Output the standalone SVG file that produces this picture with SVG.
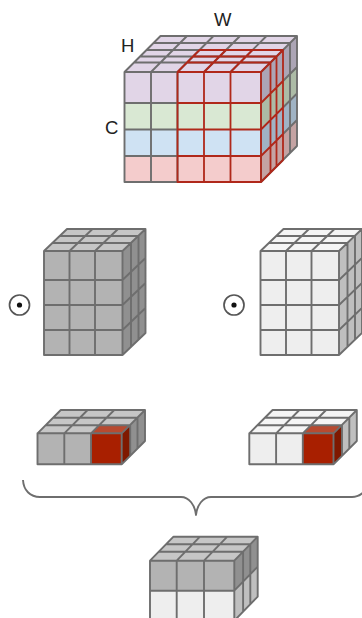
<svg xmlns="http://www.w3.org/2000/svg" xmlns:xlink="http://www.w3.org/1999/xlink" width="362" height="618" viewBox="0 0 362 618">
<style>
text{font-family:"Liberation Sans",Arial,sans-serif;font-size:18.500px;fill:#222}
.g{fill:none;stroke:#6e6e6e;stroke-width:1.9;stroke-linejoin:round}
.r{fill:none;stroke:#b0281a;stroke-width:1.8;stroke-linejoin:round}
.t{fill:var(--t)}.f{fill:var(--f)}.s{fill:var(--s)}
.dark{--t:#c6c6c6;--f:#b3b3b3;--s:#909090}
.light{--t:#f5f5f5;--f:#eeeeee;--s:#bfbfbf}
.dot{fill:#fff;stroke:#555;stroke-width:1.700}
</style>
<defs>
<g id="tall">
<polygon class="t" points="44,251 122.5,251 145.5,229 67,229"/>
<polygon class="f" points="44,251 122.5,251 122.5,355 44,355"/>
<polygon class="s" points="122.5,251 145.5,229 145.5,333 122.5,355"/>
<path class="g" d="M44,251H122.5V355H44ZM69.5,251V355M95,251V355M44,280H122.5M44,305H122.5M44,330H122.5M44,251L67,229H145.5L122.5,251M69.5,251L92.5,229M95,251L118,229M52.5,243H131M60,236H138.5M131,243V347M138.5,236V340M145.5,229V333L122.5,355M122.5,280L145.5,258M122.5,305L145.5,283M122.5,330L145.5,308"/>
</g>
<g id="flat">
<polygon class="t" points="37.5,433.3 121.7,433.3 145,410 60.8,410"/>
<polygon class="f" points="37.5,433.3 121.7,433.3 121.7,464.3 37.5,464.3"/>
<polygon class="s" points="121.7,433.3 145,410 145,441 121.7,464.3"/>
<polygon fill="#b84a30" points="91,433.3 121.7,433.3 130.2,425.3 99.5,425.3"/>
<polygon fill="#a81f00" points="91,433.3 121.7,433.3 121.7,464.3 91,464.3"/>
<polygon fill="#7f1800" points="121.7,433.3 130.2,425.3 130.2,456.3 121.7,464.3"/>
<path class="g" d="M37.5,433.3H121.7V464.3H37.5ZM64.3,433.3V464.3M91,433.3V464.3M37.5,433.3L60.8,410H145L121.7,433.3M64.3,433.3L87.6,410M91,433.3L114.3,410M45.5,425.3H130.2M53,417.8H137.5M130.2,425.3V456.3M137.5,417.8V448.8M145,410V441L121.7,464.3"/>
</g>
<g id="dotmark">
<circle class="dot" cx="19.5" cy="305" r="10"/>
<circle cx="19.5" cy="305" r="2.600" fill="#111"/>
</g>
</defs>

<g id="tensor-top">
<polygon fill="#e1d5e7" points="124.5,72 261,72 297,36 160.5,36"/>
<rect x="124.5" y="72" width="136.5" height="31" fill="#e1d5e7"/>
<rect x="124.5" y="103" width="136.5" height="26.5" fill="#d9e8d3"/>
<rect x="124.5" y="129.5" width="136.5" height="26.5" fill="#cfe2f3"/>
<rect x="124.5" y="156" width="136.5" height="26" fill="#f4cccc"/>
<polygon fill="#aca5b5" points="261,72 297,36 297,67 261,103"/>
<polygon fill="#acbba6" points="261,103 297,67 297,93.5 261,129.5"/>
<polygon fill="#a0b3c4" points="261,129.5 297,93.5 297,120 261,156"/>
<polygon fill="#c4a3a3" points="261,156 297,120 297,146 261,182"/>
<path class="g" d="M124.5,72H261V182H124.5ZM151,72V182M177.5,72V182M124.5,103H177.5M124.5,129.5H177.5M124.5,156H177.5M124.5,72L160.5,36H297L261,72M151,72L187,36M177.5,72L213.5,36M204,72L240,36M230.5,72L266.5,36M134,62.5H270.5M140,56.5H276.5M146.5,50H283M153.5,43H290M290,43V153M297,36V146L261,182M283,81L297,67M283,107.5L297,93.5M283,134L297,120"/>
<path class="r" d="M177.5,72H261V182H177.5ZM204,72V182M230.5,72V182M177.5,103H261M177.5,129.5H261M177.5,156H261M177.5,72L199.5,50H283L261,72M204,72L226,50M230.5,72L252.5,50M187,62.5H270.5M193,56.5H276.5M270.5,62.5V172.5M276.5,56.5V166.5M283,50V160L261,182M261,103L283,81M261,129.5L283,107.5M261,156L283,134"/>
</g>
<g id="label-w"><text x="214" y="26">W</text></g>
<g id="label-h"><text x="121" y="52">H</text></g>
<g id="label-c"><text x="105" y="134">C</text></g>

<g id="dot-left"><use xlink:href="#dotmark" href="#dotmark"/></g>
<g id="dot-right"><use xlink:href="#dotmark" href="#dotmark" x="214.5"/></g>
<g id="cube-tall-dark" class="dark"><use xlink:href="#tall" href="#tall"/></g>
<g id="cube-tall-light" class="light"><use xlink:href="#tall" href="#tall" x="216.5"/></g>
<g id="cube-flat-dark" class="dark"><use xlink:href="#flat" href="#flat"/></g>
<g id="cube-flat-light" class="light"><use xlink:href="#flat" href="#flat" x="211.8"/></g>

<g id="connectors">
<path id="brace" class="g" d="M23,480C23.500,490 30,497 40,497H181C189,497 195,505 196,515C197,505 203,497 211,497H352C361,497 368,490 369,480"/>
</g>

<g id="cube-stack">
<polygon fill="#c6c6c6" points="150,560.7 234.3,560.7 257.7,536.7 173.5,536.7"/>
<rect x="150" y="560.7" width="84.300" height="30" fill="#b3b3b3"/>
<rect x="150" y="590.7" width="84.300" height="30" fill="#eeeeee"/>
<polygon fill="#909090" points="234.300,560.700 257.700,536.700 257.700,566.700 234.300,590.700"/>
<polygon fill="#bfbfbf" points="234.300,590.700 257.700,566.700 257.700,596.700 234.300,620.700"/>
<path class="g" d="M150,620.7V560.700H234.300V620.700M176.700,560.700V620.700M204,560.700V620.700M150,590.700H234.300M150,560.700L173.500,536.700H257.700L234.300,560.700M176.700,560.700L200,536.700M204,560.700L227.300,536.700M158.800,551.700H243.100M166,544.300H250.300M243.100,551.700V611.700M250.300,544.300V604.300M257.700,536.700V596.700L234.300,620.700M234.300,590.700L257.700,566.700"/>
</g>
</svg>
